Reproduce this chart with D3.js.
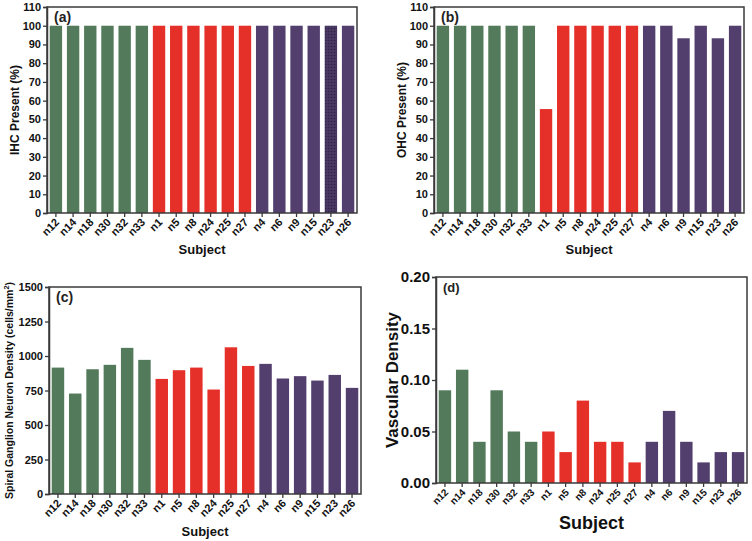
<!DOCTYPE html>
<html>
<head>
<meta charset="utf-8">
<script src="https://cdn.jsdelivr.net/npm/d3@7"></script>
<style>
html,body{margin:0;padding:0;background:#fff;}
svg{display:block;font-family:"Liberation Sans",Arial,sans-serif;}
</style>
</head>
<body>
<svg id="chart" width="752" height="541"></svg>
<script>
const subjects = ["n12","n14","n18","n30","n32","n33","n1","n5","n8","n24","n25","n27","n4","n6","n9","n15","n23","n26"];
const groups = ["g","g","g","g","g","g","r","r","r","r","r","r","p","p","p","p","p","p"];
const ihcValues = [100,100,100,100,100,100,100,100,100,100,100,100,100,100,100,100,100,100];
const ohcValues = [100,100,100,100,100,100,55.5,100,100,100,100,100,100,100,93.3,100,93.3,100];
const sgnValues = [916,728,904,936,1059,972,834,897,916,757,1063,928,943,837,854,822,863,769];
const vascValues = [0.09,0.11,0.04,0.09,0.05,0.04,0.05,0.03,0.08,0.04,0.04,0.02,0.04,0.07,0.04,0.02,0.03,0.03];
const ihcTicks = [0,10,20,30,40,50,60,70,80,90,100,110];
const sgnTicks = [0,250,500,750,1000,1250,1500];
const vascTicks = [0,0.05,0.10,0.15,0.20];

const colors = {g:"#537a5a", r:"#e52f29", p:"#533f6e"};
const svg = d3.select("#chart");

// pattern for the textured n23 bar in panel (a)
const defs = svg.append("defs");
const pat = defs.append("pattern").attr("id","dots").attr("width",3).attr("height",3).attr("patternUnits","userSpaceOnUse");
pat.append("rect").attr("width",3).attr("height",3).attr("fill","#4a3864");
pat.append("circle").attr("cx",1.5).attr("cy",1.5).attr("r",0.8).attr("fill","#2f2342");

function panel(cfg){
  const g = svg.append("g");
  const x = d3.scaleBand().domain(subjects).range([cfg.left+1, cfg.right-1]).paddingInner(0.28).paddingOuter(0.1);
  const y = d3.scaleLinear().domain(cfg.domain).range([cfg.bottom, cfg.top]);

  g.selectAll("rect.bar").data(cfg.values).enter().append("rect")
    .attr("class","bar")
    .attr("x",(d,i)=>x(subjects[i]))
    .attr("width",x.bandwidth())
    .attr("y",d=>y(d))
    .attr("height",d=>cfg.bottom-y(d))
    .attr("fill",(d,i)=> (cfg.pattern && cfg.pattern.includes(subjects[i])) ? "url(#dots)" : colors[groups[i]]);

  // frame
  g.append("rect").attr("x",cfg.left).attr("y",cfg.top).attr("width",cfg.right-cfg.left).attr("height",cfg.bottom-cfg.top)
    .attr("fill","none").attr("stroke","#3a3a3a").attr("stroke-width",1.5);

  const yAxis = d3.axisLeft(y).tickValues(cfg.ticks).tickSize(4).tickPadding(2).tickFormat(cfg.fmt);
  const ya = g.append("g").attr("transform",`translate(${cfg.left},0)`).call(yAxis);
  ya.select(".domain").attr("stroke","#3a3a3a").attr("stroke-width",1.5);
  ya.selectAll(".tick line").attr("stroke","#3a3a3a").attr("stroke-width",1.3);
  ya.selectAll(".tick text").attr("font-size",cfg.ytickSize).attr("font-weight","bold").attr("fill","#111")
    .attr("font-family","'Liberation Sans',Arial,sans-serif");

  const xAxis = d3.axisBottom(x).tickSize(4).tickPadding(2);
  const xa = g.append("g").attr("transform",`translate(0,${cfg.bottom})`).call(xAxis);
  xa.select(".domain").remove();
  xa.selectAll(".tick line").attr("stroke","#3a3a3a").attr("stroke-width",1.3);
  xa.selectAll(".tick text").attr("font-size",cfg.xtickSize).attr("font-weight","bold").attr("fill","#111")
    .attr("font-family","'Liberation Sans',Arial,sans-serif")
    .attr("text-anchor","end").attr("dy","0").attr("y",0)
    .attr("transform","translate(4,10) rotate(-45)");

  // panel letter
  g.append("text").attr("x",cfg.left+7).attr("y",cfg.top+15).attr("font-size",cfg.letterSize).attr("font-weight","bold")
    .attr("fill","#222").text(cfg.letter);

  // x label
  g.append("text").attr("x",(cfg.left+cfg.right)/2).attr("y",cfg.xlabY).attr("text-anchor","middle")
    .attr("font-size",cfg.xlabSize).attr("font-weight","bold").attr("fill","#111").text("Subject");

  // y label
  const yl = g.append("text").attr("transform",`translate(${cfg.ylabX},${(cfg.top+cfg.bottom)/2}) rotate(-90)`)
    .attr("text-anchor","middle").attr("font-size",cfg.ylabSize).attr("font-weight","bold").attr("fill","#111");
  if(cfg.ylabSup){
    yl.append("tspan").text(cfg.ylab);
    yl.append("tspan").attr("dy",-4).attr("font-size",cfg.ylabSize*0.7).text(cfg.ylabSup);
    yl.append("tspan").attr("dy",4).text(")");
  } else {
    yl.text(cfg.ylab);
  }
}

panel({left:47,right:357,top:7,bottom:213,domain:[0,110],ticks:ihcTicks,fmt:d3.format("d"),values:ihcValues,
  letter:"(a)",ylab:"IHC Present (%)",ylabX:19,ylabSize:12,ytickSize:11,xtickSize:11,xlabSize:13,xlabY:254,letterSize:14,pattern:["n23"]});
panel({left:434,right:744,top:7,bottom:213,domain:[0,110],ticks:ihcTicks,fmt:d3.format("d"),values:ohcValues,
  letter:"(b)",ylab:"OHC Present (%)",ylabX:406,ylabSize:12,ytickSize:11,xtickSize:11,xlabSize:13,xlabY:254,letterSize:14});
panel({left:49,right:361,top:287,bottom:494,domain:[0,1500],ticks:sgnTicks,fmt:d3.format("d"),values:sgnValues,
  letter:"(c)",ylab:"Spiral Ganglion Neuron Density (cells/mm",ylabSup:"2",ylabX:13,ylabSize:10.5,ytickSize:11,xtickSize:11,xlabSize:13,xlabY:536,letterSize:14});
panel({left:436,right:747,top:277,bottom:483,domain:[0,0.2],ticks:vascTicks,fmt:d3.format(".2f"),values:vascValues,
  letter:"(d)",ylab:"Vascular Density",ylabX:398,ylabSize:17,ytickSize:15,xtickSize:10,xlabSize:18,xlabY:529,letterSize:13});
</script>
</body>
</html>
